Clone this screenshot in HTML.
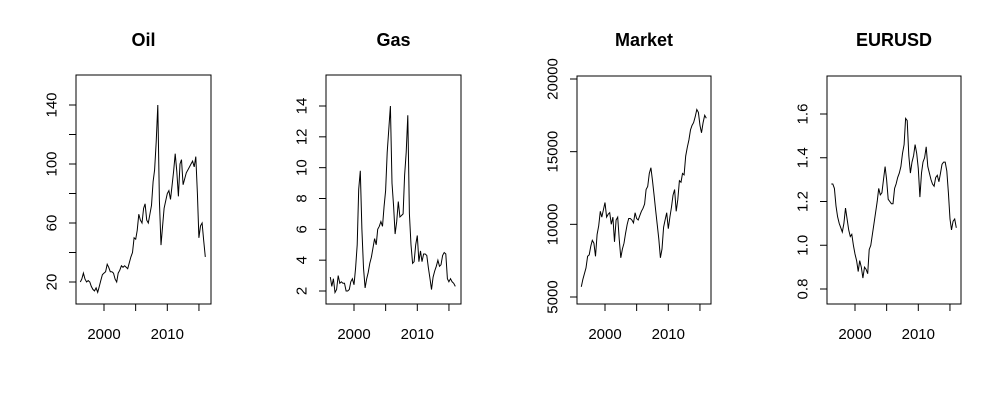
<!DOCTYPE html>
<html><head><meta charset="utf-8">
<style>
html,body{margin:0;padding:0;background:#fff;}
svg{display:block;font-family:"Liberation Sans",Arial,sans-serif;}
</style></head>
<body>
<svg id="chart" width="1000" height="400" viewBox="0 0 1000 400"></svg>
<script>
const startYear = 1996.25;
const stepYear = 0.25;
const xTicks = [2000, 2005, 2010, 2015];
const xTickLabels = ["2000", "", "2010", ""];

const oilValues = [20,22,26,22,20,21,20,17,15,14,16,13,17,21,25,26,27,32,30,27,27,26,22,20,26,28,31,30,31,30,29,33,37,40,50,49,55,66,62,60,70,73,62,60,66,72,88,96,115,140,75,45,58,70,75,80,82,76,85,95,107,95,78,100,103,86,90,94,96,98,100,102,98,105,80,50,58,60,48,37];
const gasValues = [2.9,2.3,2.8,1.9,2.1,3.0,2.5,2.6,2.5,2.5,2.0,2.0,2.1,2.6,2.8,2.4,3.5,5.0,8.6,9.8,6.0,3.5,2.2,2.8,3.2,3.8,4.2,4.8,5.4,5.0,6.0,6.2,6.5,6.2,7.5,8.5,11.0,12.5,14.0,9.0,7.5,5.7,6.5,7.8,6.8,6.9,7.0,9.5,11.0,13.4,7.0,5.0,3.8,3.9,5.0,5.6,3.9,4.6,3.9,4.4,4.4,4.3,3.5,2.8,2.1,2.9,3.3,3.6,4.0,3.6,3.7,4.3,4.5,4.4,2.8,2.6,2.8,2.6,2.5,2.3];
const marketValues = [5700,6200,6600,7000,7800,7900,8500,8900,8700,7800,9300,9900,10900,10500,11000,11500,10500,10700,10800,10000,10500,8800,10300,10500,9000,7700,8300,8700,9400,10000,10400,10400,10300,10100,10800,10400,10300,10600,10900,11100,11400,12400,12600,13500,13900,13000,12000,11000,10000,9000,7700,8300,9800,10300,10800,9700,10500,11200,12000,12400,10900,11700,13000,12900,13500,13400,14700,15300,15800,16500,16800,17000,17400,17900,17700,16800,16300,17000,17500,17300];
const eurusdValues = [1.28,1.28,1.26,1.18,1.13,1.10,1.08,1.06,1.10,1.17,1.12,1.07,1.04,1.05,1.00,0.96,0.93,0.88,0.93,0.90,0.85,0.90,0.89,0.87,0.98,1.00,1.05,1.10,1.15,1.20,1.26,1.23,1.24,1.30,1.36,1.30,1.21,1.20,1.19,1.19,1.26,1.28,1.31,1.33,1.36,1.42,1.46,1.58,1.57,1.41,1.33,1.38,1.41,1.46,1.42,1.35,1.22,1.33,1.38,1.40,1.45,1.36,1.33,1.30,1.28,1.27,1.31,1.32,1.29,1.33,1.37,1.38,1.38,1.34,1.24,1.12,1.07,1.11,1.12,1.08];

const oilTicks = [20,40,60,80,100,120,140];
const oilTickLabels = ["20","","60","","100","","140"];
const gasTicks = [2,4,6,8,10,12,14];
const gasTickLabels = ["2","4","6","8","10","12","14"];
const marketTicks = [5000,10000,15000,20000];
const marketTickLabels = ["5000","10000","15000","20000"];
const eurusdTicks = [0.8,1.0,1.2,1.4,1.6];
const eurusdTickLabels = ["0.8","1.0","1.2","1.4","1.6"];

const panels = [
  {name:"oil", title:"Oil", vals:oilValues, ticks:oilTicks, labels:oilTickLabels, box:[76,75,135,229], x2000:104, yA:[20,282], yB:[140,105]},
  {name:"gas", title:"Gas", vals:gasValues, ticks:gasTicks, labels:gasTickLabels, box:[326,75,135,229], x2000:354, yA:[2,291], yB:[14,106]},
  {name:"market", title:"Market", vals:marketValues, ticks:marketTicks, labels:marketTickLabels, box:[577,76,134,228], x2000:605, yA:[5000,297], yB:[20000,79]},
  {name:"eurusd", title:"EURUSD", vals:eurusdValues, ticks:eurusdTicks, labels:eurusdTickLabels, box:[827,76,134,228], x2000:855, yA:[0.8,289], yB:[1.6,114]}
];
const svg = document.getElementById('chart');
const NS = "http://www.w3.org/2000/svg";
function mk(tag, attrs, parent){const e=document.createElementNS(NS,tag);for(const k in attrs)e.setAttribute(k,attrs[k]);(parent||svg).appendChild(e);return e;}
const pxPerYear = 6.33;
panels.forEach(p=>{
  const g = mk('g',{});
  
  
  const xs = yr => p.x2000 + (yr-2000)*pxPerYear;
  const ys = v => p.yA[1] + (v-p.yA[0])*(p.yB[1]-p.yA[1])/(p.yB[0]-p.yA[0]);
  const [bx,by,bw,bh] = p.box;
  const cx = bx + bw/2;
  const t = mk('text',{x:cx,y:46,'text-anchor':'middle','font-size':'18','font-weight':'bold',fill:'#000'},g);
  t.textContent = p.title;
  
  
  const box = mk('rect',{x:bx,y:by,width:bw,height:bh,fill:'none',stroke:'#000','stroke-width':1},g);
  
  
  const xa = mk('g',{},g);
  
  
  const axY = by+bh;
  mk('line',{x1:xs(xTicks[0]),x2:xs(xTicks[xTicks.length-1]),y1:axY,y2:axY,stroke:'#000'},xa);
  xTicks.forEach((tk,i)=>{
    mk('line',{x1:xs(tk),x2:xs(tk),y1:axY,y2:axY+7,stroke:'#000'},xa);
    if(xTickLabels[i]){const l=mk('text',{x:xs(tk),y:axY+35,'text-anchor':'middle','font-size':'15',fill:'#000'},xa);l.textContent=xTickLabels[i];}
  });
  const ya = mk('g',{},g);
  
  
  mk('line',{x1:bx,x2:bx,y1:ys(p.ticks[0]),y2:ys(p.ticks[p.ticks.length-1]),stroke:'#000'},ya);
  p.ticks.forEach((tk,i)=>{
    const yy = ys(tk);
    mk('line',{x1:bx-7,x2:bx,y1:yy,y2:yy,stroke:'#000'},ya);
    if(p.labels[i]){const lx=bx-24;const l=mk('text',{x:lx,y:yy,'text-anchor':'middle','dominant-baseline':'central','font-size':'15',fill:'#000',transform:`rotate(-90 ${lx} ${yy})`},ya);l.textContent=p.labels[i];}
  });
  const pts = p.vals.map((v,i)=>`${xs(startYear+i*stepYear).toFixed(1)},${ys(v).toFixed(1)}`).join(' ');
  const ln = mk('polyline',{points:pts,fill:'none',stroke:'#000','stroke-width':1},g);
  
  
});
</script>
</body></html>
